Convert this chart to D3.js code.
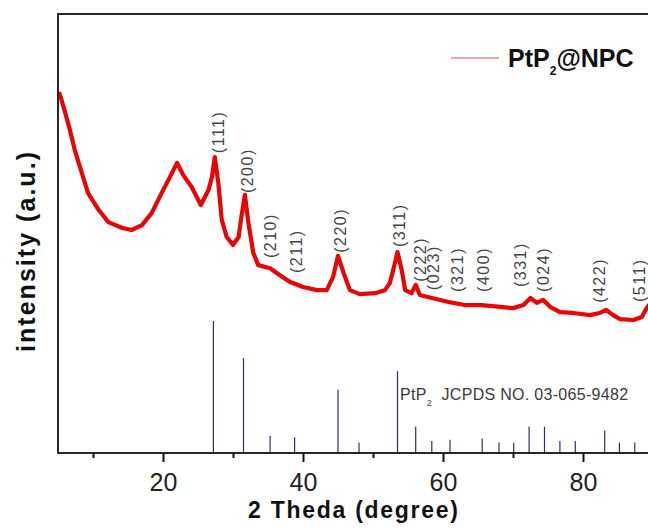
<!DOCTYPE html>
<html>
<head>
<meta charset="utf-8">
<script src="https://cdn.jsdelivr.net/npm/d3@7"></script>
<style>
body { margin: 0; background: #fff; }
text { font-family: Arial, "Liberation Sans", sans-serif; }
</style>
</head>
<body>
<svg id="my_svg"></svg>
<script>
// measured PtP2@NPC pattern (2 theta, intensity a.u.)
const twoTheta = [5.1, 5.3, 6.0, 6.7, 7.4, 8.4, 9.3, 10.8, 12.2, 14.1, 15.5, 17.0, 18.4, 19.8, 21.0,
    22.0, 22.9, 24.1, 25.4, 26.5, 27.0, 27.4, 27.9, 28.4, 29.1, 30.0, 30.8, 31.2, 31.7, 32.2,
    32.9, 33.6, 35.3, 36.7, 38.1, 40.0, 42.0, 43.4, 44.3, 45.0, 45.8, 46.7, 48.1, 50.3, 51.7,
    52.4, 53.0, 53.5, 54.1, 54.6, 55.5, 56.1, 56.7, 58.4, 60.8, 63.1, 65.5, 68.2, 70.0, 71.5,
    72.5, 73.4, 74.3, 75.3, 76.7, 78.6, 81.0, 82.4, 83.3, 84.3, 85.3, 87.2, 88.4, 89.1, 90.0];
const intensity = [82.2, 81.5, 77.7, 73.6, 69.0, 63.8, 59.2, 55.4, 52.6, 51.3, 50.8, 51.9, 54.7, 59.2, 62.9,
    66.1, 63.3, 60.6, 56.5, 59.9, 62.9, 67.4, 61.5, 53.1, 49.2, 47.4, 49.2, 53.8, 58.8, 52.4,
    45.6, 42.8, 42.1, 40.5, 39.0, 37.8, 37.1, 37.1, 40.1, 44.9, 41.0, 37.1, 36.2, 36.4, 37.1,
    38.7, 42.4, 45.8, 41.7, 37.1, 36.4, 38.3, 36.0, 35.3, 34.4, 33.7, 33.7, 33.3, 33.0, 33.7,
    35.3, 34.2, 34.9, 33.3, 32.1, 31.9, 31.4, 31.9, 32.6, 31.4, 30.5, 30.3, 31.0, 33.0, 34.9];

// PtP2 reference lines (JCPDS 03-065-9482), relative intensity
const refTheta = [27.2, 31.5, 35.3, 38.8, 45.0, 48.0, 53.5, 56.1, 58.4, 61.0,
    65.6, 68.0, 70.1, 72.3, 74.5, 76.7, 78.9, 83.1, 85.2, 87.4];
const refIntensity = [100, 72, 13, 12, 48, 8, 62, 20, 9, 10,
    11, 8, 8, 20, 20, 9, 9, 17, 8, 8];

// hkl annotations
const hklLabels = ['(111)', '(200)', '(210)', '(211)', '(220)', '(311)', '(222)',
    '(023)', '(321)', '(400)', '(331)', '(024)', '(422)', '(511)'];
const hklTheta = [27.86, 32.0, 35.4, 39.1, 45.3, 53.7, 56.7, 58.6, 62.1, 65.7, 71.0, 74.3, 82.4, 88.0];
const hklLevel = [68.3, 59.2, 44.4, 41.0, 45.6, 46.9, 39.0, 37.1, 36.7, 36.7, 37.8, 36.7, 34.2, 34.4];

const majorTicks = [20, 40, 60, 80];
const minorTicks = [10, 30, 50, 70, 90];

const width = 648;
const height = 529;

const svg = d3.select('#my_svg')
    .attr('width', width)
    .attr('height', height);

const x = d3.scaleLinear().domain([5, 90]).range([58, 653]);
const y = d3.scaleLinear().domain([0, 100]).range([453, 14]);
const yRef = d3.scaleLinear().domain([0, 100]).range([453, 321]);

svg.append('clipPath')
    .attr('id', 'plot_clip')
    .append('rect')
    .attr('x', 58).attr('y', 14)
    .attr('width', 595).attr('height', 439);

const plot_g = svg.append('g')
    .attr('clip-path', 'url(#plot_clip)');

// reference sticks
plot_g.append('g')
    .selectAll('line')
    .data(refTheta)
    .enter().append('line')
    .attr('x1', d => x(d))
    .attr('x2', d => x(d))
    .attr('y1', y(0))
    .attr('y2', (d, i) => yRef(refIntensity[i]))
    .attr('stroke', '#30306c')
    .attr('stroke-width', 1.2);

// measured curve
const pts = twoTheta.map((t, i) => [t, intensity[i]]);
const line = d3.line()
    .x(d => x(d[0]))
    .y(d => y(d[1]));

plot_g.append('path')
    .datum(pts)
    .attr('d', line)
    .attr('fill', 'none')
    .attr('stroke', '#f20000')
    .attr('stroke-width', 4.2)
    .attr('stroke-linejoin', 'round');

plot_g.append('path')
    .datum(pts)
    .attr('d', line)
    .attr('fill', 'none')
    .attr('stroke', '#d41010')
    .attr('stroke-width', 1.2)
    .attr('stroke-linejoin', 'round');

// hkl labels
svg.append('g')
    .selectAll('text')
    .data(hklLabels)
    .enter().append('text')
    .attr('transform', (d, i) => `translate(${x(hklTheta[i])},${y(hklLevel[i])}) rotate(-90)`)
    .attr('dy', '0.35em')
    .attr('font-size', 16)
    .attr('letter-spacing', 1.5)
    .attr('fill', '#444')
    .text(d => d);

// reference caption
const cap = svg.append('text')
    .attr('x', 400)
    .attr('y', 400)
    .attr('font-size', 16)
    .attr('fill', '#3a3a3a')
    .attr('letter-spacing', 0.3);
cap.append('tspan').text('PtP');
cap.append('tspan').attr('font-size', 9).attr('dy', 6).text('2');
cap.append('tspan').attr('dy', -6).text('\u00a0\u00a0JCPDS NO. 03-065-9482');

// frame
svg.append('rect')
    .attr('x', 58).attr('y', 14)
    .attr('width', 595).attr('height', 439)
    .attr('fill', 'none')
    .attr('stroke', '#111')
    .attr('stroke-width', 1.8);

// x axis
const xAxis = svg.append('g')
    .attr('transform', 'translate(0,453)')
    .call(d3.axisBottom(x).tickValues(majorTicks).tickSize(9).tickSizeOuter(0).tickPadding(11));
xAxis.select('.domain').remove();
xAxis.selectAll('line').attr('stroke', '#111').attr('stroke-width', 2);
xAxis.selectAll('text')
    .attr('font-size', 25)
    .attr('font-family', 'Arial, "Liberation Sans", sans-serif')
    .attr('fill', '#222');

const xMinor = svg.append('g')
    .attr('transform', 'translate(0,453)')
    .call(d3.axisBottom(x).tickValues(minorTicks).tickSize(5).tickSizeOuter(0).tickFormat(''));
xMinor.select('.domain').remove();
xMinor.selectAll('line').attr('stroke', '#111').attr('stroke-width', 2);

// axis titles
svg.append('text')
    .attr('x', 353)
    .attr('y', 518)
    .attr('text-anchor', 'middle')
    .attr('font-size', 23)
    .attr('font-weight', 'bold')
    .attr('fill', '#111')
    .attr('textLength', 210)
    .attr('lengthAdjust', 'spacing')
    .text('2 Theda (degree)');

svg.append('text')
    .attr('transform', 'translate(35,252) rotate(-90)')
    .attr('text-anchor', 'middle')
    .attr('font-size', 25)
    .attr('font-weight', 'bold')
    .attr('fill', '#111')
    .attr('textLength', 200)
    .attr('lengthAdjust', 'spacing')
    .text('intensity (a.u.)');

// legend
svg.append('line')
    .attr('x1', 451).attr('x2', 499)
    .attr('y1', 58).attr('y2', 58)
    .attr('stroke', '#cc5a5a')
    .attr('stroke-width', 1.2);

const leg = svg.append('text')
    .attr('x', 508)
    .attr('y', 67)
    .attr('font-size', 25)
    .attr('font-weight', 'bold')
    .attr('fill', '#111');
leg.append('tspan').text('PtP');
leg.append('tspan').attr('font-size', 12).attr('dy', 8).text('2');
leg.append('tspan').attr('dy', -8).text('@NPC');
</script>
</body>
</html>
